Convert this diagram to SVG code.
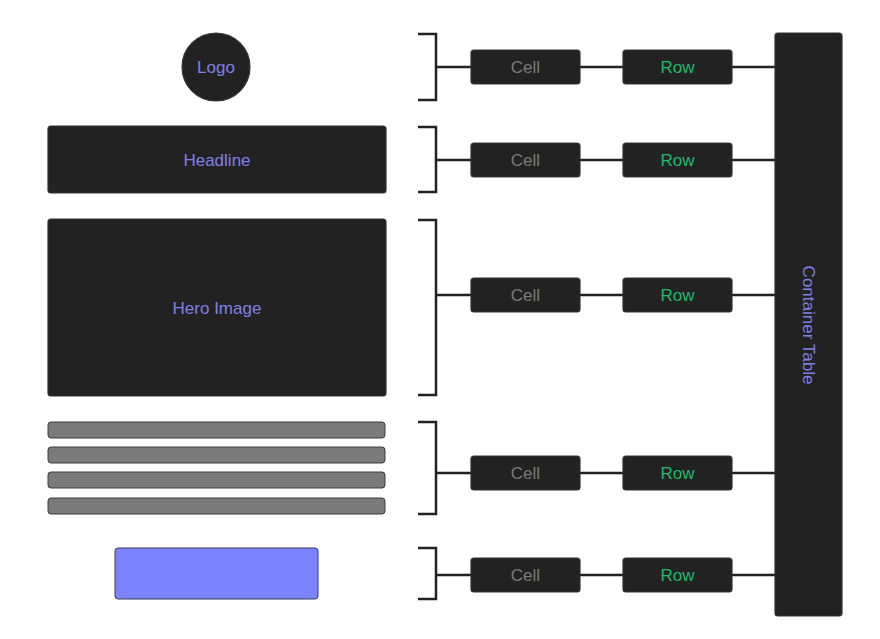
<svg xmlns="http://www.w3.org/2000/svg" width="880" height="639" viewBox="0 0 880 639">
<style>
.dark{fill:#222222;stroke:#333333;stroke-width:1.2}
.bar{fill:#7a7a7a;stroke:#3a3a44;stroke-width:1}
.btn{fill:#7b83ff;stroke:#3a3a55;stroke-width:1}
.conn{fill:none;stroke:#222222;stroke-width:2.5}
.lbl{font-family:"Liberation Sans",Arial,sans-serif;font-size:17px;text-anchor:middle;dominant-baseline:central}
.purple{fill:#7f80e6}
.gray{fill:#7a7a7a}
.green{fill:#1fb86c}
</style>
<rect width="880" height="639" fill="#ffffff"/>
<g id="connectors">
<path class="conn" d="M418 34H436V100H418 M436 67H471 M580 67H623 M732 67H775"/>
<path class="conn" d="M418 127H436V192H418 M436 160H471 M580 160H623 M732 160H775"/>
<path class="conn" d="M418 220H436V395H418 M436 295H471 M580 295H623 M732 295H775"/>
<path class="conn" d="M418 422H436V514H418 M436 473H471 M580 473H623 M732 473H775"/>
<path class="conn" d="M418 548H436V599H418 M436 575H471 M580 575H623 M732 575H775"/>
</g>
<g id="logo"><circle class="dark" cx="216" cy="67" r="34"/><text class="lbl purple" x="216" y="67">Logo</text></g>
<g id="headline"><rect class="dark" x="48" y="126" width="338" height="67" rx="3"/><text class="lbl purple" x="217" y="160">Headline</text></g>
<g id="hero"><rect class="dark" x="48" y="219" width="338" height="177" rx="3"/><text class="lbl purple" x="217" y="308">Hero Image</text></g>
<g id="text-lines">
<rect class="bar" x="48" y="422" width="337" height="16" rx="3"/>
<rect class="bar" x="48" y="447" width="337" height="16" rx="3"/>
<rect class="bar" x="48" y="472" width="337" height="16" rx="3"/>
<rect class="bar" x="48" y="498" width="337" height="16" rx="3"/>
</g>
<g id="button"><rect class="btn" x="115" y="548" width="203" height="51" rx="3"/></g>
<g id="cell1"><rect class="dark" x="471" y="50" width="109" height="34" rx="3"/><text class="lbl gray" x="525.5" y="67">Cell</text></g>
<g id="row1"><rect class="dark" x="623" y="50" width="109" height="34" rx="3"/><text class="lbl green" x="677.5" y="67">Row</text></g>
<g id="cell2"><rect class="dark" x="471" y="143" width="109" height="34" rx="3"/><text class="lbl gray" x="525.5" y="160">Cell</text></g>
<g id="row2"><rect class="dark" x="623" y="143" width="109" height="34" rx="3"/><text class="lbl green" x="677.5" y="160">Row</text></g>
<g id="cell3"><rect class="dark" x="471" y="278" width="109" height="34" rx="3"/><text class="lbl gray" x="525.5" y="295">Cell</text></g>
<g id="row3"><rect class="dark" x="623" y="278" width="109" height="34" rx="3"/><text class="lbl green" x="677.5" y="295">Row</text></g>
<g id="cell4"><rect class="dark" x="471" y="456" width="109" height="34" rx="3"/><text class="lbl gray" x="525.5" y="473">Cell</text></g>
<g id="row4"><rect class="dark" x="623" y="456" width="109" height="34" rx="3"/><text class="lbl green" x="677.5" y="473">Row</text></g>
<g id="cell5"><rect class="dark" x="471" y="558" width="109" height="34" rx="3"/><text class="lbl gray" x="525.5" y="575">Cell</text></g>
<g id="row5"><rect class="dark" x="623" y="558" width="109" height="34" rx="3"/><text class="lbl green" x="677.5" y="575">Row</text></g>
<g id="container"><rect class="dark" x="775" y="33" width="67" height="583" rx="3"/><text class="lbl purple" x="0" y="0" transform="translate(808 325) rotate(90)">Container Table</text></g>
</svg>
